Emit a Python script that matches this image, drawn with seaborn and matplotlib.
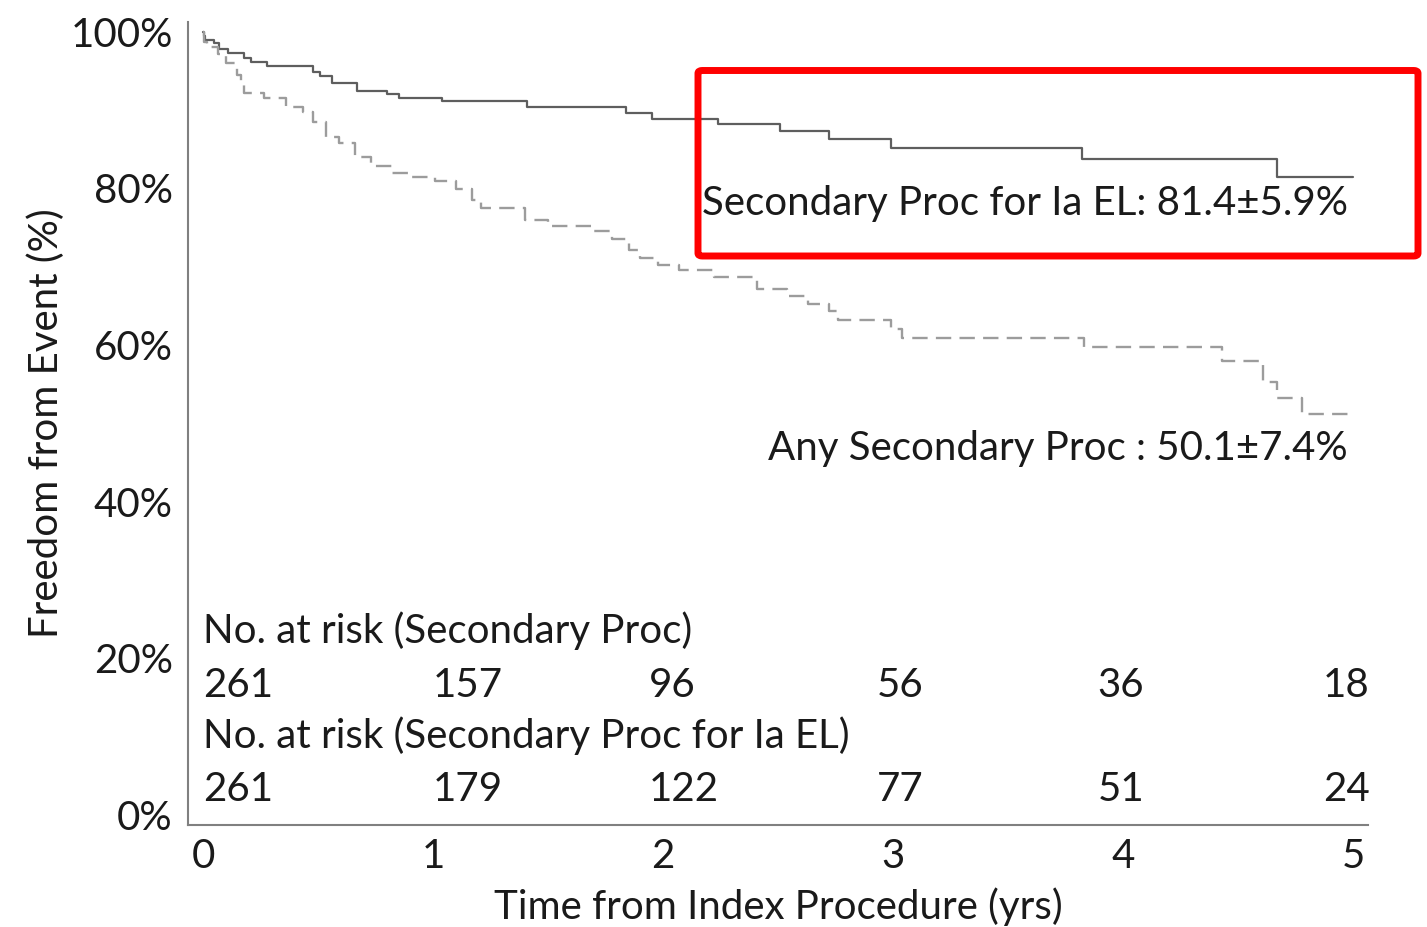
import matplotlib
matplotlib.use("Agg")
import matplotlib.pyplot as plt
import seaborn as sns
import pandas as pd
from matplotlib.patches import FancyBboxPatch

# ---- data ----
solid_t = [0.00, 0.005, 0.01, 0.05, 0.07, 0.11, 0.18, 0.21, 0.28, 0.48, 0.51, 0.56,
           0.67, 0.80, 0.85, 1.04, 1.41, 1.84, 1.95, 2.24, 2.51, 2.72, 2.99, 3.82,
           4.67, 5.00]
solid_s = [100.0, 99.5, 98.9, 98.5, 97.8, 97.3, 96.6, 96.1, 95.6, 94.9, 94.3, 93.5,
           92.4, 92.0, 91.5, 91.1, 90.4, 89.6, 88.9, 88.2, 87.3, 86.3, 85.2, 83.7,
           81.4, 81.4]

dash_t = [0.00, 0.005, 0.017, 0.065, 0.10, 0.15, 0.165, 0.18, 0.265, 0.36, 0.435,
          0.48, 0.535, 0.59, 0.66, 0.73, 0.82, 0.90, 1.01, 1.10, 1.17, 1.21, 1.40,
          1.50, 1.69, 1.78, 1.85, 1.90, 1.98, 2.07, 2.22, 2.41, 2.54, 2.63, 2.72,
          2.76, 2.99, 3.04, 3.83, 4.43, 4.61, 4.67, 4.78, 5.00]
dash_s = [100.0, 98.7, 98.1, 97.2, 96.0, 94.5, 93.6, 92.2, 91.5, 90.4, 89.8,
          88.5, 86.6, 85.8, 84.0, 82.9, 81.9, 81.4, 81.0, 79.9, 78.5, 77.5, 75.9,
          75.2, 74.6, 73.5, 72.1, 71.1, 70.2, 69.6, 68.7, 67.2, 66.2, 65.3, 64.3,
          63.2, 62.1, 60.9, 59.7, 58.0, 55.3, 53.2, 51.2, 51.2]

risk_any = [261, 157, 96, 56, 36, 18]
risk_ia = [261, 179, 122, 77, 51, 24]
risk_x = [0.0, 1.0, 1.94, 2.93, 3.89, 4.87]

label_ia = "Secondary Proc for Ia EL: 81.4±5.9%"
label_any = "Any Secondary Proc : 50.1±7.4%"
xticks = [0, 1, 2, 3, 4, 5]
yticks_major = [0, 20, 40, 60, 80, 100]

# ---- styling ----
sns.set_theme(style="white")
plt.rcParams['font.family'] = ['Lato', 'DejaVu Sans']
FS = 29
TXT = "#1a1a1a"
AXC = "#808080"

fig = plt.figure(figsize=(14.27, 9.27), dpi=100)
ax = fig.add_axes([188/1427, 1 - 825/927, (1368-188)/1427, (825-22)/927])

df_s = pd.DataFrame({"t": solid_t, "s": solid_s})
df_d = pd.DataFrame({"t": dash_t, "s": dash_s})

sns.lineplot(data=df_s, x="t", y="s", ax=ax, estimator=None, sort=False,
             drawstyle="steps-post", color="#5e5e5e", linewidth=1.6)
sns.lineplot(data=df_d, x="t", y="s", ax=ax, estimator=None, sort=False,
             drawstyle="steps-post", color="#9c9c9c", linewidth=1.7,
             linestyle=(0, (6.5, 3.5)))

ax.set_xlim(-0.0652, 5.065)
ax.set_ylim(-1.28, 101.24)

ax.set_xticks(xticks)
ax.set_xticklabels([str(v) for v in xticks], fontsize=FS, color=TXT)
yt = list(range(0, 101, 5))
ax.set_yticks(yt)
ax.set_yticklabels([f"{v}%" if v in yticks_major else "" for v in yt],
                   fontsize=FS, color=TXT)
ax.tick_params(axis="both", direction="out", length=5, width=1.2, color=AXC,
               pad=6)
ax.tick_params(axis="x", pad=4)

for side in ["top", "right"]:
    ax.spines[side].set_visible(False)
for side in ["left", "bottom"]:
    ax.spines[side].set_color(AXC)
    ax.spines[side].set_linewidth(1.5)

ax.set_xlabel("Time from Index Procedure (yrs)", fontsize=FS, color=TXT, labelpad=9)
ax.set_ylabel("Freedom from Event (%)", fontsize=FS, color=TXT, labelpad=4)

# annotations
ax.text(4.978, 76.6, label_ia, ha="right", va="baseline", fontsize=FS, color=TXT)
ax.text(4.978, 45.3, label_any, ha="right", va="baseline", fontsize=FS, color=TXT)

ax.text(0.0, 21.96, "No. at risk (Secondary Proc)", ha="left", va="baseline",
        fontsize=FS, color=TXT)
ax.text(0.0, 8.55, "No. at risk (Secondary Proc for Ia EL)", ha="left",
        va="baseline", fontsize=FS, color=TXT)
for xv, n in zip(risk_x, risk_any):
    ax.text(xv, 15.06, str(n), ha="left", va="baseline", fontsize=FS, color=TXT)
for xv, n in zip(risk_x, risk_ia):
    ax.text(xv, 1.83, str(n), ha="left", va="baseline", fontsize=FS, color=TXT)

# red highlight box (figure coordinates)
x0, x1 = 698/1427, 1418/1427
y0, y1 = 1 - 256/927, 1 - 70.5/927
box = FancyBboxPatch((x0, y0), x1 - x0, y1 - y0, boxstyle="round,pad=0,rounding_size=0.003",
                     transform=fig.transFigure, fill=False, edgecolor="#ff0000",
                     linewidth=5.0, joinstyle="round")
fig.patches.append(box)

fig.savefig("out.png", dpi=100, facecolor="white")
